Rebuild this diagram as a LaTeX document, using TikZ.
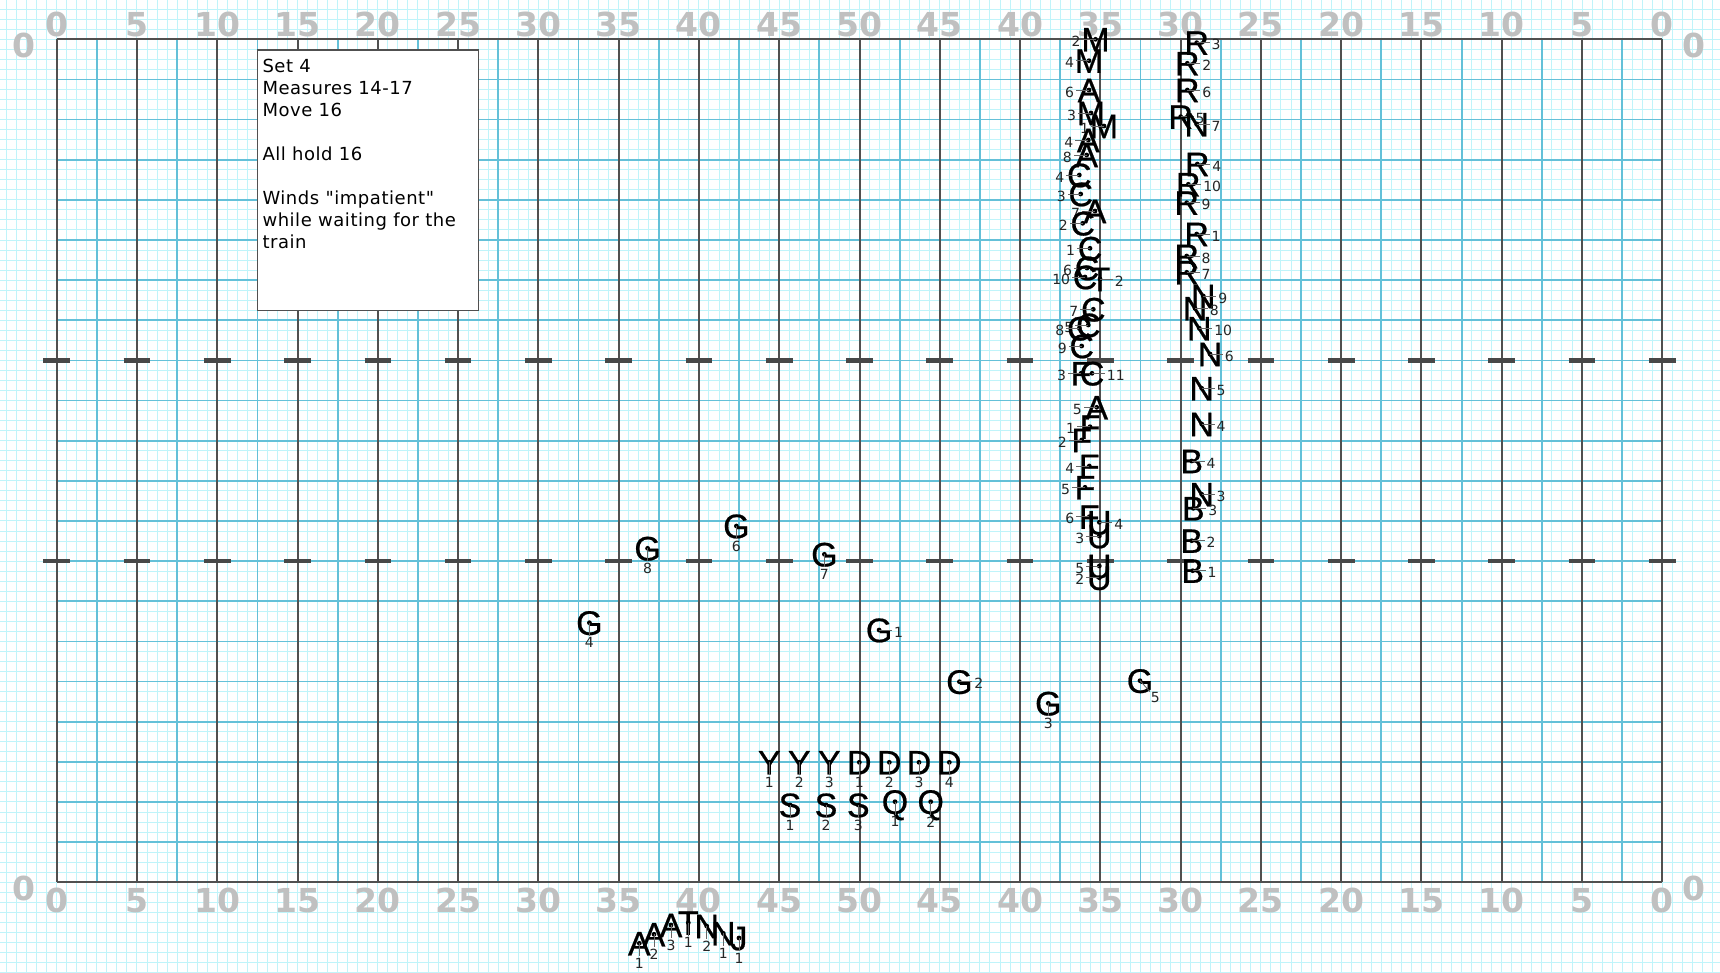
\documentclass[tikz,border=0pt]{standalone}
\usepackage{fontspec}
\setmainfont{DejaVu Sans}
\newfontfamily\mkfont[FakeBold=0.6]{Liberation Sans}
\newfontfamily\boxfont[LetterSpace=3]{DejaVu Sans}
\definecolor{minorc}{RGB}{192,244,250}
\definecolor{cyanc}{RGB}{100,192,216}
\definecolor{darkc}{RGB}{80,80,80}
\definecolor{numc}{RGB}{192,192,192}
\tikzset{
  minorln/.style={draw=minorc, line width=1pt},
  cyanln/.style={draw=cyanc, line width=1.8pt},
  darkln/.style={draw=darkc, line width=2pt},
  hashmk/.style={draw=darkc!90!black, line width=4.5pt},
  yardnum/.style={text=numc, font=\fontsize{33}{33}\selectfont\bfseries, inner sep=0},
  ltr/.style={font=\mkfont\fontsize{34}{34}\selectfont, inner sep=0, text height=24.3pt, text depth=0pt},
  numlbl/.style={font=\fontsize{14}{14}\selectfont, inner sep=1.5pt, text=black!85},
  lead/.style={draw=black!60, line width=0.9pt},
  infobox/.style={draw=darkc, fill=white, line width=1.3pt, minimum width=220.6pt, minimum height=260.5pt, inner sep=0},
  boxtxt/.style={font=\boxfont\fontsize{18}{22}\selectfont, anchor=base west, inner sep=0}
}
% marker macros: name, x, y, letter, number
\newcommand\mkR[5]{\node[ltr] (#1) at (#2,#3) {#4};\fill (#1.center) circle (2.4);\draw[lead] (#1.center) -- ++(13,0) node[numlbl,anchor=west,yshift=-2pt] (#1n) {#5};}
\newcommand\mkL[5]{\node[ltr] (#1) at (#2,#3) {#4};\fill (#1.center) circle (2.4);\draw[lead] (#1.center) -- ++(-13,0) node[numlbl,anchor=east,yshift=-2pt] (#1n) {#5};}
\newcommand\mkB[5]{\node[ltr] (#1) at (#2,#3) {#4};\fill (#1.center) circle (2.4);\draw[lead] (#1.center) -- ++(0,13) node[numlbl,anchor=north] (#1n) {#5};}
\newcommand\mkD[5]{\node[ltr] (#1) at (#2,#3) {#4};\fill (#1.center) circle (2.4);\draw[lead] (#1.center) -- ++(10,11) node[numlbl,anchor=north west,inner sep=0.5pt] (#1n) {#5};}
\begin{document}
\begin{tikzpicture}[x=1pt,y=-1pt]
\useasboundingbox (0,0) rectangle (1720,972);
\fill[white] (0,0) rectangle (1720,972);
% minor step grid
\foreach \k in {-6,...,167} {\draw[minorln] ({56.7+\k*10.035},0) -- ({56.7+\k*10.035},972);}
\foreach \k in {-4,...,94} {\draw[minorln] (0,{39.3+\k*10.035}) -- (1720,{39.3+\k*10.035});}
% cyan lines
\foreach \k in {1,...,20} {\draw[cyanln] (56.7,{39.3+\k*40.14}) -- (1662.3,{39.3+\k*40.14});}
\foreach \k in {1,3,...,39} {\draw[cyanln] ({56.7+\k*40.14},39.3) -- ({56.7+\k*40.14},882.3);}
% yard lines
\foreach \k in {0,2,...,40} {\draw[darkln] ({56.7+\k*40.14},39.3) -- ({56.7+\k*40.14},882.3);}
\draw[darkln] (56.7,39.3) -- (1662.3,39.3);
\draw[darkln] (56.7,882.3) -- (1662.3,882.3);
% hash marks
\foreach \k in {0,...,20} {
  \draw[hashmk] ({56.7+\k*80.28-13.3},360.4) -- ++(26.6,0);
  \draw[hashmk] ({56.7+\k*80.28-13.3},561.1) -- ++(26.6,0);
}
% yard numbers
\foreach \k/\v in {0/0,1/5,2/10,3/15,4/20,5/25,6/30,7/35,8/40,9/45,10/50,11/45,12/40,13/35,14/30,15/25,16/20,17/15,18/10,19/5,20/0} {
  \node[yardnum] (top\k) at ({56.7+\k*80.28},24.7) {\v};
  \node[yardnum] (bot\k) at ({56.7+\k*80.28},900.3) {\v};
}
\node[yardnum] (sideTL) at (24.2,45.8) {0};
\node[yardnum] (sideBL) at (24.2,888.3) {0};
\node[yardnum] (sideTR) at (1694,45.8) {0};
\node[yardnum] (sideBR) at (1694,888.3) {0};
% info box
\node[infobox] (box) at (368,180.25) {};
\node[boxtxt] (t1) at (262.3,72.3) {Set 4};
\node[boxtxt] (t2) at (262.3,94.3) {Measures 14-17};
\node[boxtxt] (t3) at (262.3,116.3) {Move 16};
\node[boxtxt] (t4) at (262.3,160.3) {All hold 16};
\node[boxtxt] (t5) at (262.3,204.3) {Winds "impatient"};
\node[boxtxt] (t6) at (262.3,226.3) {while waiting for the};
\node[boxtxt] (t7) at (262.3,248.3) {train};
% left column
\mkL{M2}{1095.5}{39.3}{M}{2}
\mkL{M4}{1089}{60.7}{M}{4}
\mkL{A6}{1089}{90}{A}{6}
\mkL{M3}{1091}{113}{M}{3}
\mkL{M1}{1104}{126}{M}{1}
\mkL{A4}{1088.3}{140}{A}{4}
\mkL{A8}{1086.7}{155}{A}{8}
\mkL{C4}{1079.3}{175}{C}{4}
\mkL{C3}{1080.7}{194}{C}{3}
\mkL{A7}{1095}{211}{A}{7}
\mkL{C2}{1082.7}{223.3}{C}{2}
\mkL{C1}{1090}{248.3}{C}{1}
\mkL{C6}{1087}{268}{C}{6}
\mkL{C10}{1085}{277}{C}{10}
\mkR{T2}{1100}{279}{T}{2}
\mkL{C7}{1093.3}{309.3}{C}{7}
\mkL{C5}{1088.3}{325}{C}{5}
\mkL{C8}{1079.3}{328.3}{C}{8}
\mkL{C9}{1081.7}{346}{C}{9}
\mkL{F3}{1081}{373.3}{F}{3}
\mkR{C11}{1092}{373.3}{C}{11}
\mkL{A5}{1096.7}{407.3}{A}{5}
\mkL{F1}{1090}{426.7}{F}{1}
\mkL{F2}{1081.7}{440}{F}{2}
\mkL{F4}{1089.3}{466}{F}{4}
\mkL{F5}{1085}{487.3}{F}{5}
\mkL{F6}{1089.3}{516.7}{F}{6}
\mkR{U4}{1099.3}{522.3}{U}{4}
\mkL{U3}{1099.3}{536}{U}{3}
\mkL{U5}{1099.3}{566}{U}{5}
\mkL{U2}{1099.3}{577.7}{U}{2}
% right column
\mkR{R3}{1196.7}{42.7}{R}{3}
\mkR{R2}{1187.3}{63.3}{R}{2}
\mkR{R6}{1187.3}{90}{R}{6}
\mkR{R5}{1180.7}{116.7}{R}{5}
\mkR{N7}{1196.7}{124.3}{N}{7}
\mkR{R4}{1197.3}{164}{R}{4}
\mkR{R10}{1188.3}{184.3}{R}{10}
\mkR{R9}{1186.7}{202.7}{R}{9}
\mkR{R1}{1196.7}{234}{R}{1}
\mkR{R8}{1186.7}{256}{R}{8}
\mkR{R7}{1186.7}{272.3}{R}{7}
\mkR{N9}{1203.3}{296}{N}{9}
\mkR{N8}{1195}{308.3}{N}{8}
\mkR{N10}{1199.3}{328.3}{N}{10}
\mkR{N6}{1210}{354}{N}{6}
\mkR{N5}{1201.7}{388.3}{N}{5}
\mkR{N4}{1201.7}{424}{N}{4}
\mkR{B4}{1191.7}{461}{B}{4}
\mkR{N3}{1201.7}{494.3}{N}{3}
\mkR{B3}{1193.3}{508.3}{B}{3}
\mkR{B2}{1191.7}{540.7}{B}{2}
\mkR{B1}{1192.7}{570.7}{B}{1}
% G group
\mkB{G8}{647.6}{548.3}{G}{8}
\mkB{G6}{736.4}{526}{G}{6}
\mkB{G7}{824.4}{554.3}{G}{7}
\mkB{G4}{589.4}{622.7}{G}{4}
\mkR{G1}{879.1}{630}{G}{1}
\mkR{G2}{959.4}{681.7}{G}{2}
\mkB{G3}{1048.3}{703.3}{G}{3}
\mkD{G5}{1140}{680.7}{G}{5}
% Y D S Q
\mkB{Y1}{769.3}{762.3}{Y}{1}
\mkB{Y2}{799.3}{762.3}{Y}{2}
\mkB{Y3}{829.3}{762.3}{Y}{3}
\mkB{D1}{859.3}{762.3}{D}{1}
\mkB{D2}{889.3}{762.3}{D}{2}
\mkB{D3}{919}{762.3}{D}{3}
\mkB{D4}{949.3}{762.3}{D}{4}
\mkB{S1}{790}{805}{S}{1}
\mkB{S2}{826}{805}{S}{2}
\mkB{S3}{858.3}{805}{S}{3}
\mkB{Q1}{895}{801.7}{Q}{1}
\mkB{Q2}{930.7}{801.7}{Q}{2}
% bottom group
\mkB{A1}{639.3}{943.3}{A}{1}
\mkB{A2}{654}{934.3}{A}{2}
\mkB{A3}{671}{925}{A}{3}
\mkB{T1}{688.3}{922.7}{T}{1}
\mkB{N2}{706.7}{926}{N}{2}
\mkB{N1}{723.3}{933.3}{N}{1}
\mkB{J1}{739}{938}{J}{1}
\end{tikzpicture}
\end{document}
